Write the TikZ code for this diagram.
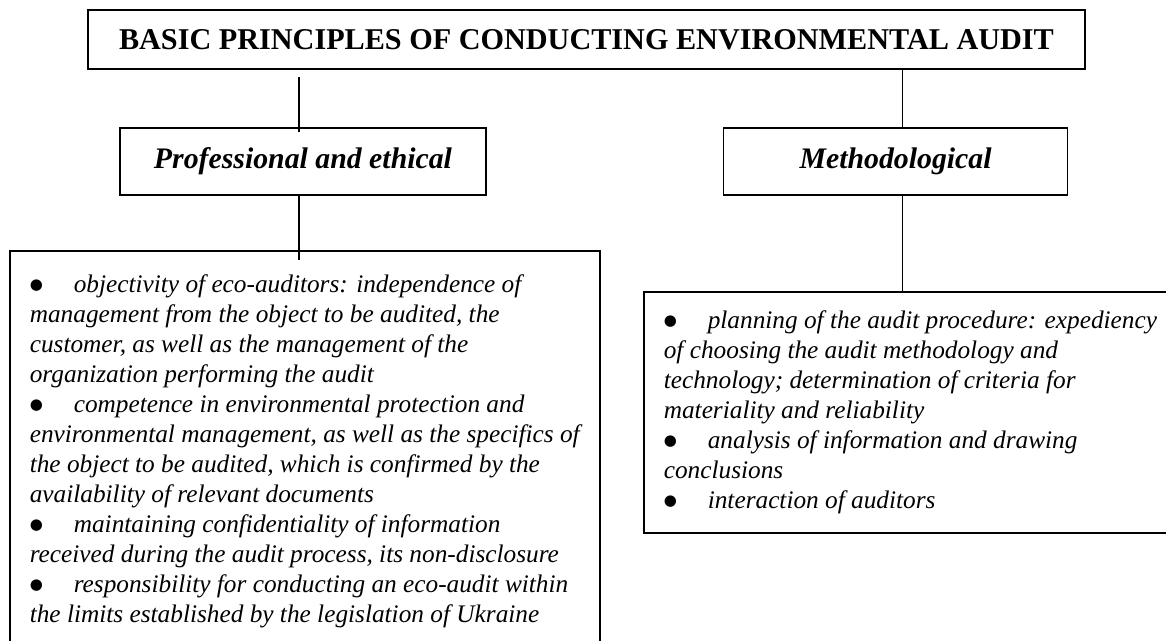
\documentclass[tikz,border=0pt]{standalone}
\usepackage{fontspec}
\setmainfont{Liberation Serif}
\newfontfamily\dotfont{DejaVu Sans}
\usetikzlibrary{positioning}
\def\bulletmark{\makebox[44pt][l]{\raisebox{3pt}{\dotfont\upshape\fontsize{15}{15}\selectfont ●}}}

\begin{document}
\begin{tikzpicture}[x=1pt, y=-1pt,
    titlebox/.style={rectangle, draw=black, line width=1.6pt, minimum width=997pt, minimum height=59pt, text centered, font=\fontsize{30.2}{34}\selectfont\bfseries},
    groupbox/.style={rectangle, draw=black, line width=1.6pt, minimum height=67pt, text centered, font=\fontsize{29.8}{34}\selectfont\bfseries\itshape},
    listbox/.style={rectangle, draw=black, line width=1.6pt, anchor=north west, align=left, inner xsep=20pt, inner ysep=19pt, font=\fontsize{25.3}{30}\selectfont\itshape},
    link/.style={line width=1.6pt},
]
\useasboundingbox (0,0) rectangle (1166,640);
\clip (0,0) rectangle (1166,640);

% Nodes
\node[titlebox] (title) at (586.5,39.5) {BASIC PRINCIPLES OF CONDUCTING ENVIRONMENTAL AUDIT};
\node[groupbox, minimum width=366pt] (ethics) at (303,161.5) {Professional and ethical};
\node[groupbox, minimum width=344pt, right=236pt of ethics] (method) {Methodological};

\node[listbox, inner ysep=24pt] (ethicsList) at (9,250) {\bulletmark objectivity of eco-auditors: independence of\\
management from the object to be audited, the\\
customer, as well as the management of the\\
organization performing the audit\\
\bulletmark competence in environmental protection and\\
environmental management, as well as the specifics of\\
the object to be audited, which is confirmed by the\\
availability of relevant documents\\
\bulletmark maintaining confidentiality of information\\
received during the audit process, its non-disclosure\\
\bulletmark responsibility for conducting an eco-audit within\\
the limits established by the legislation of Ukraine};

\node[listbox] (methodList) at (643,291) {\bulletmark planning of the audit procedure: expediency\hspace{20pt}\\
of choosing the audit methodology and\\
technology; determination of criteria for\\
materiality and reliability\\
\bulletmark analysis of information and drawing\\
conclusions\\
\bulletmark interaction of auditors};

% Connections
\draw[link, shorten <=7pt, shorten >=-5pt] ([xshift=-4pt]ethics.north |- title.south) -- ([xshift=-4pt]ethics.north);
\draw[link, shorten >=-10pt] ([xshift=-4pt]ethics.south) -- ([xshift=-4pt]ethics.south |- ethicsList.north);
\draw[link] ([xshift=7pt]method.north |- title.south) -- ([xshift=7pt]method.north);
\draw[link] ([xshift=7pt]method.south) -- ([xshift=7pt]method.south |- methodList.north);

\end{tikzpicture}
\end{document}
